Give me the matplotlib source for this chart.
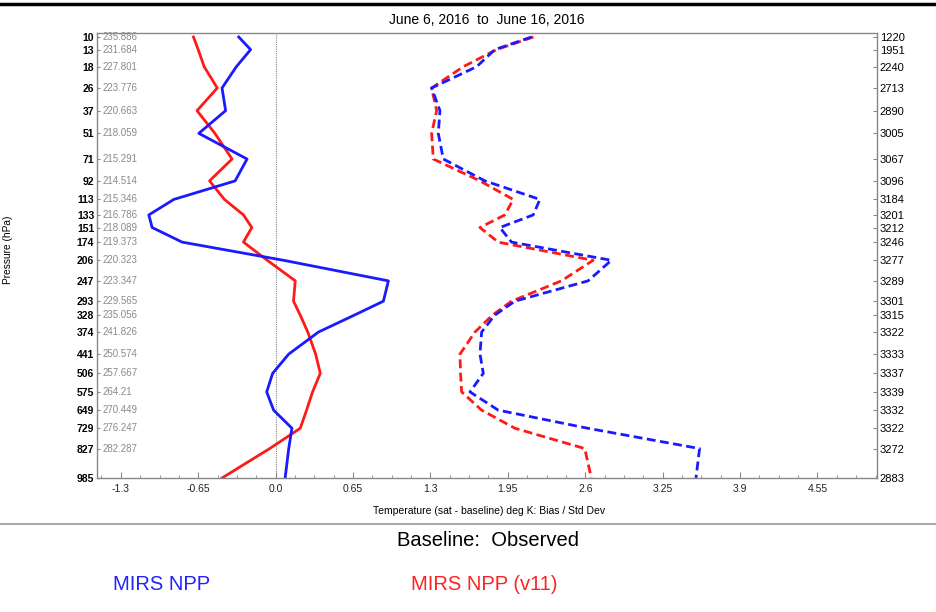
import numpy as np
import matplotlib
matplotlib.use('Agg')
import matplotlib.pyplot as plt
from matplotlib.lines import Line2D
from matplotlib.ticker import MultipleLocator

plt.rcParams['font.family'] = ['Liberation Sans', 'DejaVu Sans']

# pressure levels (hPa) and the per-level annotations
levels = [10, 13, 18, 26, 37, 51, 71, 92, 113, 133, 151, 174, 206, 247, 293,
          328, 374, 441, 506, 575, 649, 729, 827, 985]
mean_temp = ['235.886', '231.684', '227.801', '223.776', '220.663', '218.059',
             '215.291', '214.514', '215.346', '216.786', '218.089', '219.373',
             '220.323', '223.347', '229.565', '235.056', '241.826', '250.574',
             '257.667', '264.21', '270.449', '276.247', '282.287', '']
counts = [1220, 1951, 2240, 2713, 2890, 3005, 3067, 3096, 3184, 3201, 3212, 3246,
          3277, 3289, 3301, 3315, 3322, 3333, 3337, 3339, 3332, 3322, 3272, 2883]

# bias (solid) and std dev (dashed)
npp_bias = [-0.31, -0.21, -0.33, -0.45, -0.42, -0.645, -0.24, -0.34, -0.855, -1.065,
            -1.037, -0.785, 0.067, 0.947, 0.905, 0.66, 0.36, 0.11, -0.025, -0.075,
            -0.017, 0.137, 0.11, 0.08]
v11_bias = [-0.69, -0.65, -0.60, -0.49, -0.66, -0.51, -0.366, -0.555, -0.43, -0.27,
            -0.20, -0.27, -0.07, 0.165, 0.15, 0.207, 0.27, 0.336, 0.375, 0.31,
            0.26, 0.207, -0.05, -0.45]
npp_std = [2.149, 1.84, 1.688, 1.31, 1.38, 1.366, 1.408, 1.758, 2.219, 2.163,
           1.883, 1.981, 2.819, 2.624, 2.009, 1.84, 1.73, 1.716, 1.744, 1.632,
           1.869, 2.62, 3.56, 3.53]
v11_std = [2.165, 1.855, 1.576, 1.31, 1.352, 1.31, 1.324, 1.716, 1.995, 1.925,
           1.716, 1.869, 2.666, 2.40, 1.981, 1.82, 1.674, 1.548, 1.553, 1.562,
           1.73, 2.009, 2.596, 2.651]

xticks = [-1.3, -0.65, 0.0, 0.65, 1.3, 1.95, 2.6, 3.25, 3.9, 4.55]
xtick_labels = ['-1.3', '-0.65', '0.0', '0.65', '1.3', '1.95', '2.6', '3.25', '3.9', '4.55']

W, H = 937, 612
fig = plt.figure(figsize=(W / 100, H / 100), dpi=100)
ax = fig.add_axes([97 / W, 1 - 478 / H, 780 / W, 445 / H])

kappa = 0.286
fwd = lambda p: np.power(np.clip(p, 1e-6, None), kappa)
inv = lambda y: np.power(np.clip(y, 1e-6, None), 1 / kappa)

ax.set_yscale('function', functions=(fwd, inv))
ax.set_ylim(985, 9.17)
ax.set_xlim(-1.5, 5.05)

ax.axvline(0, color='#888888', lw=0.8, ls=(0, (1, 1)))

ax.plot(v11_std, levels, color='#ff1a1a', lw=2, ls=(0, (3.2, 1.6)))
ax.plot(npp_std, levels, color='#1a1aff', lw=2, ls=(0, (3.2, 1.6)))
ax.plot(v11_bias, levels, color='#ff1a1a', lw=2)
ax.plot(npp_bias, levels, color='#1a1aff', lw=2)

for s in ax.spines.values():
    s.set_color('#888888')
    s.set_linewidth(1)

ax.set_xticks(xticks)
ax.set_xticklabels(xtick_labels, fontsize=7.5, color='#222222')
ax.xaxis.set_minor_locator(MultipleLocator(0.1625))
ax.tick_params(axis='x', which='both', direction='in', colors='#888888',
               labelcolor='#222222', pad=4)
ax.tick_params(axis='x', which='major', length=4)
ax.tick_params(axis='x', which='minor', length=2)

ax.set_yticks(levels)
ax.set_yticklabels([str(p) for p in levels], fontsize=7.5, fontweight='bold')
ax.yaxis.set_minor_locator(plt.NullLocator())
ax.tick_params(axis='y', direction='in', length=2.5, colors='#888888',
               labelcolor='black', pad=2)

trans = ax.get_yaxis_transform()
for p, t in zip(levels, mean_temp):
    ax.text(0.007, p, t, transform=trans, fontsize=7, color='#8a8a8a',
            ha='left', va='center')

ax2 = ax.twinx()
ax2.set_yscale('function', functions=(fwd, inv))
ax2.set_ylim(985, 9.17)
ax2.set_yticks(levels)
ax2.set_yticklabels([str(c) for c in counts], fontsize=8)
ax2.yaxis.set_minor_locator(plt.NullLocator())
ax2.tick_params(axis='y', direction='in', length=3, colors='#888888',
                labelcolor='black', pad=2)
for s in ax2.spines.values():
    s.set_visible(False)

fig.text(487 / W, 1 - 20 / H, 'June 6, 2016  to  June 16, 2016', fontsize=10,
         ha='center', va='center')
fig.text(489 / W, 1 - 511 / H, 'Temperature (sat - baseline) deg K: Bias / Std Dev',
         fontsize=7.5, ha='center', va='center')
fig.text(8 / W, 1 - 250 / H, 'Pressure (hPa)', fontsize=7.3, rotation=90,
         ha='center', va='center')

fig.add_artist(Line2D([0, 1], [1 - 4 / H] * 2, color='black', lw=2.5))
fig.add_artist(Line2D([0, 1], [1 - 524 / H] * 2, color='#999999', lw=1.2))

fig.text(488 / W, 1 - 540 / H, 'Baseline:  Observed', fontsize=14.5,
         ha='center', va='center')
fig.text(113 / W, 1 - 585 / H, 'MIRS NPP', fontsize=14.5, color='#2222ff',
         ha='left', va='center')
fig.text(411 / W, 1 - 585 / H, 'MIRS NPP (v11)', fontsize=14.5, color='#ff2222',
         ha='left', va='center')

fig.savefig('out.png', dpi=100)
